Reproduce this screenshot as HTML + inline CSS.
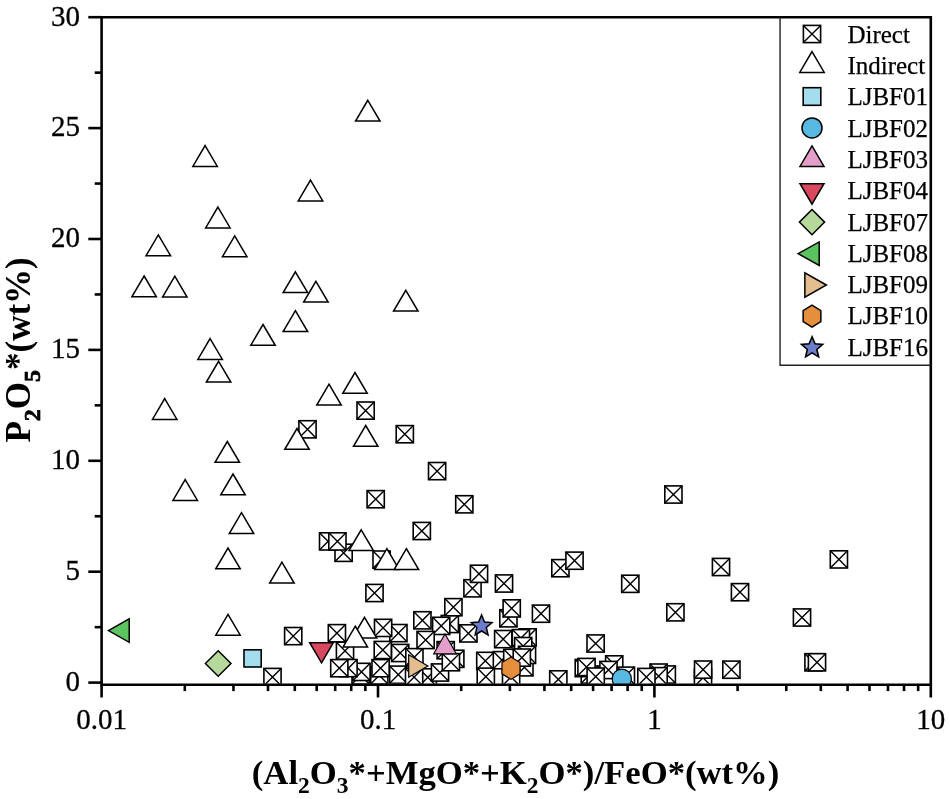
<!DOCTYPE html><html><head><meta charset="utf-8"><style>html,body{margin:0;padding:0;background:#fff;}svg{display:block;will-change:transform}</style></head><body>
<svg width="950" height="799" viewBox="0 0 950 799">
<rect width="950" height="799" fill="#fff"/>
<defs><clipPath id="pc"><rect x="101.6" y="17.2" width="829.1999999999999" height="666.5"/></clipPath></defs>
<g clip-path="url(#pc)">
<rect x="357.00" y="402.00" width="17.2" height="17.2" fill="#fff" stroke="#000" stroke-width="1.6"/><path d="M357.00 402.00L374.20 419.20M374.20 402.00L357.00 419.20" stroke="#000" stroke-width="1.4"/>
<rect x="298.90" y="420.70" width="17.2" height="17.2" fill="#fff" stroke="#000" stroke-width="1.6"/><path d="M298.90 420.70L316.10 437.90M316.10 420.70L298.90 437.90" stroke="#000" stroke-width="1.4"/>
<rect x="396.20" y="425.60" width="17.2" height="17.2" fill="#fff" stroke="#000" stroke-width="1.6"/><path d="M396.20 425.60L413.40 442.80M413.40 425.60L396.20 442.80" stroke="#000" stroke-width="1.4"/>
<rect x="367.10" y="490.60" width="17.2" height="17.2" fill="#fff" stroke="#000" stroke-width="1.6"/><path d="M367.10 490.60L384.30 507.80M384.30 490.60L367.10 507.80" stroke="#000" stroke-width="1.4"/>
<rect x="335.00" y="544.20" width="17.2" height="17.2" fill="#fff" stroke="#000" stroke-width="1.6"/><path d="M335.00 544.20L352.20 561.40M352.20 544.20L335.00 561.40" stroke="#000" stroke-width="1.4"/>
<rect x="319.50" y="532.80" width="17.2" height="17.2" fill="#fff" stroke="#000" stroke-width="1.6"/><path d="M319.50 532.80L336.70 550.00M336.70 532.80L319.50 550.00" stroke="#000" stroke-width="1.4"/>
<rect x="328.80" y="532.80" width="17.2" height="17.2" fill="#fff" stroke="#000" stroke-width="1.6"/><path d="M328.80 532.80L346.00 550.00M346.00 532.80L328.80 550.00" stroke="#000" stroke-width="1.4"/>
<rect x="413.20" y="522.40" width="17.2" height="17.2" fill="#fff" stroke="#000" stroke-width="1.6"/><path d="M413.20 522.40L430.40 539.60M430.40 522.40L413.20 539.60" stroke="#000" stroke-width="1.4"/>
<rect x="428.50" y="462.50" width="17.2" height="17.2" fill="#fff" stroke="#000" stroke-width="1.6"/><path d="M428.50 462.50L445.70 479.70M445.70 462.50L428.50 479.70" stroke="#000" stroke-width="1.4"/>
<rect x="455.70" y="495.70" width="17.2" height="17.2" fill="#fff" stroke="#000" stroke-width="1.6"/><path d="M455.70 495.70L472.90 512.90M472.90 495.70L455.70 512.90" stroke="#000" stroke-width="1.4"/>
<rect x="664.80" y="485.90" width="17.2" height="17.2" fill="#fff" stroke="#000" stroke-width="1.6"/><path d="M664.80 485.90L682.00 503.10M682.00 485.90L664.80 503.10" stroke="#000" stroke-width="1.4"/>
<rect x="373.00" y="551.00" width="17.2" height="17.2" fill="#fff" stroke="#000" stroke-width="1.6"/><path d="M373.00 551.00L390.20 568.20M390.20 551.00L373.00 568.20" stroke="#000" stroke-width="1.4"/>
<rect x="365.90" y="584.40" width="17.2" height="17.2" fill="#fff" stroke="#000" stroke-width="1.6"/><path d="M365.90 584.40L383.10 601.60M383.10 584.40L365.90 601.60" stroke="#000" stroke-width="1.4"/>
<rect x="284.60" y="627.50" width="17.2" height="17.2" fill="#fff" stroke="#000" stroke-width="1.6"/><path d="M284.60 627.50L301.80 644.70M301.80 627.50L284.60 644.70" stroke="#000" stroke-width="1.4"/>
<rect x="263.90" y="668.40" width="17.2" height="17.2" fill="#fff" stroke="#000" stroke-width="1.6"/><path d="M263.90 668.40L281.10 685.60M281.10 668.40L263.90 685.60" stroke="#000" stroke-width="1.4"/>
<rect x="328.30" y="624.60" width="17.2" height="17.2" fill="#fff" stroke="#000" stroke-width="1.6"/><path d="M328.30 624.60L345.50 641.80M345.50 624.60L328.30 641.80" stroke="#000" stroke-width="1.4"/>
<rect x="336.40" y="642.20" width="17.2" height="17.2" fill="#fff" stroke="#000" stroke-width="1.6"/><path d="M336.40 642.20L353.60 659.40M353.60 642.20L336.40 659.40" stroke="#000" stroke-width="1.4"/>
<rect x="352.00" y="666.80" width="17.2" height="17.2" fill="#fff" stroke="#000" stroke-width="1.6"/><path d="M352.00 666.80L369.20 684.00M369.20 666.80L352.00 684.00" stroke="#000" stroke-width="1.4"/>
<rect x="352.90" y="663.30" width="17.2" height="17.2" fill="#fff" stroke="#000" stroke-width="1.6"/><path d="M352.90 663.30L370.10 680.50M370.10 663.30L352.90 680.50" stroke="#000" stroke-width="1.4"/>
<rect x="339.90" y="659.50" width="17.2" height="17.2" fill="#fff" stroke="#000" stroke-width="1.6"/><path d="M339.90 659.50L357.10 676.70M357.10 659.50L339.90 676.70" stroke="#000" stroke-width="1.4"/>
<rect x="330.70" y="659.60" width="17.2" height="17.2" fill="#fff" stroke="#000" stroke-width="1.6"/><path d="M330.70 659.60L347.90 676.80M347.90 659.60L330.70 676.80" stroke="#000" stroke-width="1.4"/>
<rect x="370.70" y="666.80" width="17.2" height="17.2" fill="#fff" stroke="#000" stroke-width="1.6"/><path d="M370.70 666.80L387.90 684.00M387.90 666.80L370.70 684.00" stroke="#000" stroke-width="1.4"/>
<rect x="389.80" y="624.50" width="17.2" height="17.2" fill="#fff" stroke="#000" stroke-width="1.6"/><path d="M389.80 624.50L407.00 641.70M407.00 624.50L389.80 641.70" stroke="#000" stroke-width="1.4"/>
<rect x="374.50" y="619.30" width="17.2" height="17.2" fill="#fff" stroke="#000" stroke-width="1.6"/><path d="M374.50 619.30L391.70 636.50M391.70 619.30L374.50 636.50" stroke="#000" stroke-width="1.4"/>
<rect x="374.20" y="641.40" width="17.2" height="17.2" fill="#fff" stroke="#000" stroke-width="1.6"/><path d="M374.20 641.40L391.40 658.60M391.40 641.40L374.20 658.60" stroke="#000" stroke-width="1.4"/>
<rect x="372.00" y="659.60" width="17.2" height="17.2" fill="#fff" stroke="#000" stroke-width="1.6"/><path d="M372.00 659.60L389.20 676.80M389.20 659.60L372.00 676.80" stroke="#000" stroke-width="1.4"/>
<rect x="441.20" y="615.40" width="17.2" height="17.2" fill="#fff" stroke="#000" stroke-width="1.6"/><path d="M441.20 615.40L458.40 632.60M458.40 615.40L441.20 632.60" stroke="#000" stroke-width="1.4"/>
<rect x="391.60" y="644.40" width="17.2" height="17.2" fill="#fff" stroke="#000" stroke-width="1.6"/><path d="M391.60 644.40L408.80 661.60M408.80 644.40L391.60 661.60" stroke="#000" stroke-width="1.4"/>
<rect x="419.20" y="668.80" width="17.2" height="17.2" fill="#fff" stroke="#000" stroke-width="1.6"/><path d="M419.20 668.80L436.40 686.00M436.40 668.80L419.20 686.00" stroke="#000" stroke-width="1.4"/>
<rect x="389.70" y="666.10" width="17.2" height="17.2" fill="#fff" stroke="#000" stroke-width="1.6"/><path d="M389.70 666.10L406.90 683.30M406.90 666.10L389.70 683.30" stroke="#000" stroke-width="1.4"/>
<rect x="405.50" y="668.50" width="17.2" height="17.2" fill="#fff" stroke="#000" stroke-width="1.6"/><path d="M405.50 668.50L422.70 685.70M422.70 668.50L405.50 685.70" stroke="#000" stroke-width="1.4"/>
<rect x="405.80" y="648.60" width="17.2" height="17.2" fill="#fff" stroke="#000" stroke-width="1.6"/><path d="M405.80 648.60L423.00 665.80M423.00 648.60L405.80 665.80" stroke="#000" stroke-width="1.4"/>
<rect x="413.80" y="611.70" width="17.2" height="17.2" fill="#fff" stroke="#000" stroke-width="1.6"/><path d="M413.80 611.70L431.00 628.90M431.00 611.70L413.80 628.90" stroke="#000" stroke-width="1.4"/>
<rect x="432.60" y="617.30" width="17.2" height="17.2" fill="#fff" stroke="#000" stroke-width="1.6"/><path d="M432.60 617.30L449.80 634.50M449.80 617.30L432.60 634.50" stroke="#000" stroke-width="1.4"/>
<rect x="444.80" y="598.60" width="17.2" height="17.2" fill="#fff" stroke="#000" stroke-width="1.6"/><path d="M444.80 598.60L462.00 615.80M462.00 598.60L444.80 615.80" stroke="#000" stroke-width="1.4"/>
<rect x="463.90" y="579.70" width="17.2" height="17.2" fill="#fff" stroke="#000" stroke-width="1.6"/><path d="M463.90 579.70L481.10 596.90M481.10 579.70L463.90 596.90" stroke="#000" stroke-width="1.4"/>
<rect x="470.40" y="565.20" width="17.2" height="17.2" fill="#fff" stroke="#000" stroke-width="1.6"/><path d="M470.40 565.20L487.60 582.40M487.60 565.20L470.40 582.40" stroke="#000" stroke-width="1.4"/>
<rect x="417.00" y="631.40" width="17.2" height="17.2" fill="#fff" stroke="#000" stroke-width="1.6"/><path d="M417.00 631.40L434.20 648.60M434.20 631.40L417.00 648.60" stroke="#000" stroke-width="1.4"/>
<rect x="446.70" y="650.20" width="17.2" height="17.2" fill="#fff" stroke="#000" stroke-width="1.6"/><path d="M446.70 650.20L463.90 667.40M463.90 650.20L446.70 667.40" stroke="#000" stroke-width="1.4"/>
<rect x="437.10" y="641.60" width="17.2" height="17.2" fill="#fff" stroke="#000" stroke-width="1.6"/><path d="M437.10 641.60L454.30 658.80M454.30 641.60L437.10 658.80" stroke="#000" stroke-width="1.4"/>
<rect x="431.40" y="663.90" width="17.2" height="17.2" fill="#fff" stroke="#000" stroke-width="1.6"/><path d="M431.40 663.90L448.60 681.10M448.60 663.90L431.40 681.10" stroke="#000" stroke-width="1.4"/>
<rect x="442.30" y="653.60" width="17.2" height="17.2" fill="#fff" stroke="#000" stroke-width="1.6"/><path d="M442.30 653.60L459.50 670.80M459.50 653.60L442.30 670.80" stroke="#000" stroke-width="1.4"/>
<rect x="459.80" y="624.80" width="17.2" height="17.2" fill="#fff" stroke="#000" stroke-width="1.6"/><path d="M459.80 624.80L477.00 642.00M477.00 624.80L459.80 642.00" stroke="#000" stroke-width="1.4"/>
<rect x="476.70" y="652.30" width="17.2" height="17.2" fill="#fff" stroke="#000" stroke-width="1.6"/><path d="M476.70 652.30L493.90 669.50M493.90 652.30L476.70 669.50" stroke="#000" stroke-width="1.4"/>
<rect x="495.40" y="574.90" width="17.2" height="17.2" fill="#fff" stroke="#000" stroke-width="1.6"/><path d="M495.40 574.90L512.60 592.10M512.60 574.90L495.40 592.10" stroke="#000" stroke-width="1.4"/>
<rect x="499.80" y="609.70" width="17.2" height="17.2" fill="#fff" stroke="#000" stroke-width="1.6"/><path d="M499.80 609.70L517.00 626.90M517.00 609.70L499.80 626.90" stroke="#000" stroke-width="1.4"/>
<rect x="503.10" y="599.80" width="17.2" height="17.2" fill="#fff" stroke="#000" stroke-width="1.6"/><path d="M503.10 599.80L520.30 617.00M520.30 599.80L503.10 617.00" stroke="#000" stroke-width="1.4"/>
<rect x="532.40" y="605.10" width="17.2" height="17.2" fill="#fff" stroke="#000" stroke-width="1.6"/><path d="M532.40 605.10L549.60 622.30M549.60 605.10L532.40 622.30" stroke="#000" stroke-width="1.4"/>
<rect x="494.60" y="630.50" width="17.2" height="17.2" fill="#fff" stroke="#000" stroke-width="1.6"/><path d="M494.60 630.50L511.80 647.70M511.80 630.50L494.60 647.70" stroke="#000" stroke-width="1.4"/>
<rect x="519.00" y="628.80" width="17.2" height="17.2" fill="#fff" stroke="#000" stroke-width="1.6"/><path d="M519.00 628.80L536.20 646.00M536.20 628.80L519.00 646.00" stroke="#000" stroke-width="1.4"/>
<rect x="512.30" y="629.60" width="17.2" height="17.2" fill="#fff" stroke="#000" stroke-width="1.6"/><path d="M512.30 629.60L529.50 646.80M529.50 629.60L512.30 646.80" stroke="#000" stroke-width="1.4"/>
<rect x="514.60" y="637.50" width="17.2" height="17.2" fill="#fff" stroke="#000" stroke-width="1.6"/><path d="M514.60 637.50L531.80 654.70M531.80 637.50L514.60 654.70" stroke="#000" stroke-width="1.4"/>
<rect x="493.30" y="651.60" width="17.2" height="17.2" fill="#fff" stroke="#000" stroke-width="1.6"/><path d="M493.30 651.60L510.50 668.80M510.50 651.60L493.30 668.80" stroke="#000" stroke-width="1.4"/>
<rect x="503.70" y="649.30" width="17.2" height="17.2" fill="#fff" stroke="#000" stroke-width="1.6"/><path d="M503.70 649.30L520.90 666.50M520.90 649.30L503.70 666.50" stroke="#000" stroke-width="1.4"/>
<rect x="515.80" y="658.70" width="17.2" height="17.2" fill="#fff" stroke="#000" stroke-width="1.6"/><path d="M515.80 658.70L533.00 675.90M533.00 658.70L515.80 675.90" stroke="#000" stroke-width="1.4"/>
<rect x="518.40" y="646.30" width="17.2" height="17.2" fill="#fff" stroke="#000" stroke-width="1.6"/><path d="M518.40 646.30L535.60 663.50M535.60 646.30L518.40 663.50" stroke="#000" stroke-width="1.4"/>
<rect x="513.20" y="649.00" width="17.2" height="17.2" fill="#fff" stroke="#000" stroke-width="1.6"/><path d="M513.20 649.00L530.40 666.20M530.40 649.00L513.20 666.20" stroke="#000" stroke-width="1.4"/>
<rect x="477.20" y="668.10" width="17.2" height="17.2" fill="#fff" stroke="#000" stroke-width="1.6"/><path d="M477.20 668.10L494.40 685.30M494.40 668.10L477.20 685.30" stroke="#000" stroke-width="1.4"/>
<rect x="502.50" y="668.40" width="17.2" height="17.2" fill="#fff" stroke="#000" stroke-width="1.6"/><path d="M502.50 668.40L519.70 685.60M519.70 668.40L502.50 685.60" stroke="#000" stroke-width="1.4"/>
<rect x="549.70" y="670.80" width="17.2" height="17.2" fill="#fff" stroke="#000" stroke-width="1.6"/><path d="M549.70 670.80L566.90 688.00M566.90 670.80L549.70 688.00" stroke="#000" stroke-width="1.4"/>
<rect x="551.80" y="559.60" width="17.2" height="17.2" fill="#fff" stroke="#000" stroke-width="1.6"/><path d="M551.80 559.60L569.00 576.80M569.00 559.60L551.80 576.80" stroke="#000" stroke-width="1.4"/>
<rect x="565.90" y="552.10" width="17.2" height="17.2" fill="#fff" stroke="#000" stroke-width="1.6"/><path d="M565.90 552.10L583.10 569.30M583.10 552.10L565.90 569.30" stroke="#000" stroke-width="1.4"/>
<rect x="621.70" y="575.20" width="17.2" height="17.2" fill="#fff" stroke="#000" stroke-width="1.6"/><path d="M621.70 575.20L638.90 592.40M638.90 575.20L621.70 592.40" stroke="#000" stroke-width="1.4"/>
<rect x="666.80" y="603.70" width="17.2" height="17.2" fill="#fff" stroke="#000" stroke-width="1.6"/><path d="M666.80 603.70L684.00 620.90M684.00 603.70L666.80 620.90" stroke="#000" stroke-width="1.4"/>
<rect x="587.00" y="634.90" width="17.2" height="17.2" fill="#fff" stroke="#000" stroke-width="1.6"/><path d="M587.00 634.90L604.20 652.10M604.20 634.90L587.00 652.10" stroke="#000" stroke-width="1.4"/>
<rect x="581.20" y="666.00" width="17.2" height="17.2" fill="#fff" stroke="#000" stroke-width="1.6"/><path d="M581.20 666.00L598.40 683.20M598.40 666.00L581.20 683.20" stroke="#000" stroke-width="1.4"/>
<rect x="575.20" y="659.50" width="17.2" height="17.2" fill="#fff" stroke="#000" stroke-width="1.6"/><path d="M575.20 659.50L592.40 676.70M592.40 659.50L575.20 676.70" stroke="#000" stroke-width="1.4"/>
<rect x="577.90" y="658.40" width="17.2" height="17.2" fill="#fff" stroke="#000" stroke-width="1.6"/><path d="M577.90 658.40L595.10 675.60M595.10 658.40L577.90 675.60" stroke="#000" stroke-width="1.4"/>
<rect x="605.60" y="655.80" width="17.2" height="17.2" fill="#fff" stroke="#000" stroke-width="1.6"/><path d="M605.60 655.80L622.80 673.00M622.80 655.80L605.60 673.00" stroke="#000" stroke-width="1.4"/>
<rect x="599.90" y="661.40" width="17.2" height="17.2" fill="#fff" stroke="#000" stroke-width="1.6"/><path d="M599.90 661.40L617.10 678.60M617.10 661.40L599.90 678.60" stroke="#000" stroke-width="1.4"/>
<rect x="587.10" y="668.00" width="17.2" height="17.2" fill="#fff" stroke="#000" stroke-width="1.6"/><path d="M587.10 668.00L604.30 685.20M604.30 668.00L587.10 685.20" stroke="#000" stroke-width="1.4"/>
<rect x="617.30" y="667.10" width="17.2" height="17.2" fill="#fff" stroke="#000" stroke-width="1.6"/><path d="M617.30 667.10L634.50 684.30M634.50 667.10L617.30 684.30" stroke="#000" stroke-width="1.4"/>
<rect x="658.20" y="665.90" width="17.2" height="17.2" fill="#fff" stroke="#000" stroke-width="1.6"/><path d="M658.20 665.90L675.40 683.10M675.40 665.90L658.20 683.10" stroke="#000" stroke-width="1.4"/>
<rect x="650.00" y="664.00" width="17.2" height="17.2" fill="#fff" stroke="#000" stroke-width="1.6"/><path d="M650.00 664.00L667.20 681.20M667.20 664.00L650.00 681.20" stroke="#000" stroke-width="1.4"/>
<rect x="650.00" y="667.60" width="17.2" height="17.2" fill="#fff" stroke="#000" stroke-width="1.6"/><path d="M650.00 667.60L667.20 684.80M667.20 667.60L650.00 684.80" stroke="#000" stroke-width="1.4"/>
<rect x="637.80" y="668.40" width="17.2" height="17.2" fill="#fff" stroke="#000" stroke-width="1.6"/><path d="M637.80 668.40L655.00 685.60M655.00 668.40L637.80 685.60" stroke="#000" stroke-width="1.4"/>
<rect x="694.40" y="669.20" width="17.2" height="17.2" fill="#fff" stroke="#000" stroke-width="1.6"/><path d="M694.40 669.20L711.60 686.40M711.60 669.20L694.40 686.40" stroke="#000" stroke-width="1.4"/>
<rect x="694.50" y="661.00" width="17.2" height="17.2" fill="#fff" stroke="#000" stroke-width="1.6"/><path d="M694.50 661.00L711.70 678.20M711.70 661.00L694.50 678.20" stroke="#000" stroke-width="1.4"/>
<rect x="722.80" y="661.10" width="17.2" height="17.2" fill="#fff" stroke="#000" stroke-width="1.6"/><path d="M722.80 661.10L740.00 678.30M740.00 661.10L722.80 678.30" stroke="#000" stroke-width="1.4"/>
<rect x="712.40" y="558.40" width="17.2" height="17.2" fill="#fff" stroke="#000" stroke-width="1.6"/><path d="M712.40 558.40L729.60 575.60M729.60 558.40L712.40 575.60" stroke="#000" stroke-width="1.4"/>
<rect x="731.40" y="583.60" width="17.2" height="17.2" fill="#fff" stroke="#000" stroke-width="1.6"/><path d="M731.40 583.60L748.60 600.80M748.60 583.60L731.40 600.80" stroke="#000" stroke-width="1.4"/>
<rect x="830.30" y="550.80" width="17.2" height="17.2" fill="#fff" stroke="#000" stroke-width="1.6"/><path d="M830.30 550.80L847.50 568.00M847.50 550.80L830.30 568.00" stroke="#000" stroke-width="1.4"/>
<rect x="793.40" y="608.90" width="17.2" height="17.2" fill="#fff" stroke="#000" stroke-width="1.6"/><path d="M793.40 608.90L810.60 626.10M810.60 608.90L793.40 626.10" stroke="#000" stroke-width="1.4"/>
<rect x="804.90" y="653.70" width="17.2" height="17.2" fill="#fff" stroke="#000" stroke-width="1.6"/><path d="M804.90 653.70L822.10 670.90M822.10 653.70L804.90 670.90" stroke="#000" stroke-width="1.4"/>
<rect x="808.40" y="653.70" width="17.2" height="17.2" fill="#fff" stroke="#000" stroke-width="1.6"/><path d="M808.40 653.70L825.60 670.90M825.60 653.70L808.40 670.90" stroke="#000" stroke-width="1.4"/>
<path d="M367.80 100.30L380.05 121.10L355.55 121.10Z" fill="#fff" stroke="#000" stroke-width="1.5" stroke-linejoin="miter"/>
<path d="M205.10 145.60L217.35 166.40L192.85 166.40Z" fill="#fff" stroke="#000" stroke-width="1.5" stroke-linejoin="miter"/>
<path d="M310.50 180.10L322.75 200.90L298.25 200.90Z" fill="#fff" stroke="#000" stroke-width="1.5" stroke-linejoin="miter"/>
<path d="M217.90 207.10L230.15 227.90L205.65 227.90Z" fill="#fff" stroke="#000" stroke-width="1.5" stroke-linejoin="miter"/>
<path d="M158.30 234.90L170.55 255.70L146.05 255.70Z" fill="#fff" stroke="#000" stroke-width="1.5" stroke-linejoin="miter"/>
<path d="M234.70 235.90L246.95 256.70L222.45 256.70Z" fill="#fff" stroke="#000" stroke-width="1.5" stroke-linejoin="miter"/>
<path d="M144.10 276.00L156.35 296.80L131.85 296.80Z" fill="#fff" stroke="#000" stroke-width="1.5" stroke-linejoin="miter"/>
<path d="M174.80 276.20L187.05 297.00L162.55 297.00Z" fill="#fff" stroke="#000" stroke-width="1.5" stroke-linejoin="miter"/>
<path d="M295.40 271.80L307.65 292.60L283.15 292.60Z" fill="#fff" stroke="#000" stroke-width="1.5" stroke-linejoin="miter"/>
<path d="M315.90 281.30L328.15 302.10L303.65 302.10Z" fill="#fff" stroke="#000" stroke-width="1.5" stroke-linejoin="miter"/>
<path d="M405.80 290.30L418.05 311.10L393.55 311.10Z" fill="#fff" stroke="#000" stroke-width="1.5" stroke-linejoin="miter"/>
<path d="M295.40 310.70L307.65 331.50L283.15 331.50Z" fill="#fff" stroke="#000" stroke-width="1.5" stroke-linejoin="miter"/>
<path d="M263.00 324.50L275.25 345.30L250.75 345.30Z" fill="#fff" stroke="#000" stroke-width="1.5" stroke-linejoin="miter"/>
<path d="M210.10 338.60L222.35 359.40L197.85 359.40Z" fill="#fff" stroke="#000" stroke-width="1.5" stroke-linejoin="miter"/>
<path d="M218.60 361.30L230.85 382.10L206.35 382.10Z" fill="#fff" stroke="#000" stroke-width="1.5" stroke-linejoin="miter"/>
<path d="M164.70 398.60L176.95 419.40L152.45 419.40Z" fill="#fff" stroke="#000" stroke-width="1.5" stroke-linejoin="miter"/>
<path d="M355.00 372.50L367.25 393.30L342.75 393.30Z" fill="#fff" stroke="#000" stroke-width="1.5" stroke-linejoin="miter"/>
<path d="M329.00 384.20L341.25 405.00L316.75 405.00Z" fill="#fff" stroke="#000" stroke-width="1.5" stroke-linejoin="miter"/>
<path d="M365.70 425.50L377.95 446.30L353.45 446.30Z" fill="#fff" stroke="#000" stroke-width="1.5" stroke-linejoin="miter"/>
<path d="M297.00 428.50L309.25 449.30L284.75 449.30Z" fill="#fff" stroke="#000" stroke-width="1.5" stroke-linejoin="miter"/>
<path d="M227.30 441.50L239.55 462.30L215.05 462.30Z" fill="#fff" stroke="#000" stroke-width="1.5" stroke-linejoin="miter"/>
<path d="M185.20 479.60L197.45 500.40L172.95 500.40Z" fill="#fff" stroke="#000" stroke-width="1.5" stroke-linejoin="miter"/>
<path d="M233.00 474.00L245.25 494.80L220.75 494.80Z" fill="#fff" stroke="#000" stroke-width="1.5" stroke-linejoin="miter"/>
<path d="M241.50 512.70L253.75 533.50L229.25 533.50Z" fill="#fff" stroke="#000" stroke-width="1.5" stroke-linejoin="miter"/>
<path d="M361.20 529.80L373.45 550.60L348.95 550.60Z" fill="#fff" stroke="#000" stroke-width="1.5" stroke-linejoin="miter"/>
<path d="M228.00 548.00L240.25 568.80L215.75 568.80Z" fill="#fff" stroke="#000" stroke-width="1.5" stroke-linejoin="miter"/>
<path d="M281.90 562.20L294.15 583.00L269.65 583.00Z" fill="#fff" stroke="#000" stroke-width="1.5" stroke-linejoin="miter"/>
<path d="M228.00 614.40L240.25 635.20L215.75 635.20Z" fill="#fff" stroke="#000" stroke-width="1.5" stroke-linejoin="miter"/>
<path d="M386.90 548.70L399.15 569.50L374.65 569.50Z" fill="#fff" stroke="#000" stroke-width="1.5" stroke-linejoin="miter"/>
<path d="M406.40 548.70L418.65 569.50L394.15 569.50Z" fill="#fff" stroke="#000" stroke-width="1.5" stroke-linejoin="miter"/>
<path d="M364.50 617.30L376.75 638.10L352.25 638.10Z" fill="#fff" stroke="#000" stroke-width="1.5" stroke-linejoin="miter"/>
<path d="M355.30 626.20L367.55 647.00L343.05 647.00Z" fill="#fff" stroke="#000" stroke-width="1.5" stroke-linejoin="miter"/>
<path d="M108.40 630.60L129.20 618.90L129.20 642.30Z" fill="#5CC45E" stroke="#000" stroke-width="1.5"/>
<path d="M218.20 650.70L231.00 663.50L218.20 676.30L205.40 663.50Z" fill="#B5D99B" stroke="#000" stroke-width="1.5"/>
<rect x="244.00" y="649.80" width="17.2" height="17.2" fill="#A4DEEE" stroke="#000" stroke-width="1.6"/>
<path d="M321.50 662.85L333.30 642.75L309.70 642.75Z" fill="#D8485F" stroke="#000" stroke-width="1.5"/>
<path d="M445.00 633.90L456.40 653.90L433.60 653.90Z" fill="#E39FC9" stroke="#000" stroke-width="1.1" stroke-linejoin="miter"/>
<path d="M427.90 666.00L408.70 654.85L408.70 677.15Z" fill="#E3BD8F" stroke="#000" stroke-width="1.2"/>
<path d="M511.00 657.00L520.02 662.60L520.02 673.80L511.00 679.40L501.98 673.80L501.98 662.60Z" fill="#E58F3C" stroke="#000" stroke-width="1.2"/>
<path d="M481.60 615.00L484.54 621.95L492.06 622.60L486.36 627.55L488.07 634.90L481.60 631.00L475.13 634.90L476.84 627.55L471.14 622.60L478.66 621.95Z" fill="#6B7CC8" stroke="#000" stroke-width="1.5" stroke-linejoin="miter"/>
<circle cx="621.80" cy="678.70" r="9.6" fill="#57B9E2" stroke="#000" stroke-width="1.2"/>
</g>
<g stroke="#000" stroke-width="2.6" fill="none" stroke-linecap="butt">
<path d="M101.6 17.2H930.8V684.7H101.6Z" stroke-linejoin="miter"/>
<path d="M88.30 682.60H101.6"/>
<path d="M94.70 627.15H101.6"/>
<path d="M88.30 571.70H101.6"/>
<path d="M94.70 516.25H101.6"/>
<path d="M88.30 460.80H101.6"/>
<path d="M94.70 405.35H101.6"/>
<path d="M88.30 349.90H101.6"/>
<path d="M94.70 294.45H101.6"/>
<path d="M88.30 239.00H101.6"/>
<path d="M94.70 183.55H101.6"/>
<path d="M88.30 128.10H101.6"/>
<path d="M94.70 72.65H101.6"/>
<path d="M88.30 17.20H101.6"/>
<path d="M101.60 684.7V697.50"/>
<path d="M184.80 684.7V691.10"/>
<path d="M233.48 684.7V691.10"/>
<path d="M268.01 684.7V691.10"/>
<path d="M294.80 684.7V691.10"/>
<path d="M316.68 684.7V691.10"/>
<path d="M335.19 684.7V691.10"/>
<path d="M351.21 684.7V691.10"/>
<path d="M365.35 684.7V691.10"/>
<path d="M378.00 684.7V697.50"/>
<path d="M461.20 684.7V691.10"/>
<path d="M509.88 684.7V691.10"/>
<path d="M544.41 684.7V691.10"/>
<path d="M571.20 684.7V691.10"/>
<path d="M593.08 684.7V691.10"/>
<path d="M611.59 684.7V691.10"/>
<path d="M627.61 684.7V691.10"/>
<path d="M641.75 684.7V691.10"/>
<path d="M654.40 684.7V697.50"/>
<path d="M737.60 684.7V691.10"/>
<path d="M786.28 684.7V691.10"/>
<path d="M820.81 684.7V691.10"/>
<path d="M847.60 684.7V691.10"/>
<path d="M869.48 684.7V691.10"/>
<path d="M887.99 684.7V691.10"/>
<path d="M904.01 684.7V691.10"/>
<path d="M918.15 684.7V691.10"/>
<path d="M930.8 684.7V697.50"/>
</g>
<g font-family="Liberation Serif" font-size="29" fill="#000" stroke="#000" stroke-width="0.3">
<text x="80" y="690.90" text-anchor="end">0</text>
<text x="80" y="580.00" text-anchor="end">5</text>
<text x="80" y="469.10" text-anchor="end">10</text>
<text x="80" y="358.20" text-anchor="end">15</text>
<text x="80" y="247.30" text-anchor="end">20</text>
<text x="80" y="136.40" text-anchor="end">25</text>
<text x="80" y="25.50" text-anchor="end">30</text>
<text x="101.60" y="728.9" text-anchor="middle">0.01</text>
<text x="378.00" y="728.9" text-anchor="middle">0.1</text>
<text x="654.40" y="728.9" text-anchor="middle">1</text>
<text x="930.80" y="728.9" text-anchor="middle">10</text>
</g>
<text x="515.6" y="783.6" text-anchor="middle" font-family="Liberation Serif" font-weight="bold" font-size="34.7" fill="#000">(Al<tspan font-size="23.5" dy="9.7">2</tspan><tspan dy="-9.7">O</tspan><tspan font-size="23.5" dy="9.7">3</tspan><tspan dy="-9.7">*+MgO*+K</tspan><tspan font-size="23.5" dy="9.7">2</tspan><tspan dy="-9.7">O*)/FeO*(wt%)</tspan></text>
<text transform="translate(30,349.9) rotate(-90)" x="0" y="0" text-anchor="middle" font-family="Liberation Serif" font-weight="bold" font-size="35" fill="#000">P<tspan font-size="24" dy="9.7" stroke="#000" stroke-width="0.7">2</tspan><tspan dy="-9.7">O</tspan><tspan font-size="24" dy="9.7" stroke="#000" stroke-width="0.7">5</tspan><tspan dy="-9.7">*(wt%)</tspan></text>
<path d="M780.05 17.2V365.3H930.8" stroke="#222" stroke-width="1.4" fill="none"/>
<rect x="803.40" y="25.40" width="17.2" height="17.2" fill="#fff" stroke="#000" stroke-width="1.6"/><path d="M803.40 25.40L820.60 42.60M820.60 25.40L803.40 42.60" stroke="#000" stroke-width="1.4"/>
<path d="M812.00 51.60L824.25 72.40L799.75 72.40Z" fill="#fff" stroke="#000" stroke-width="1.5" stroke-linejoin="miter"/>
<rect x="803.2" y="87.7" width="17.6" height="17.6" fill="#A4DEEE" stroke="#000" stroke-width="1.6"/>
<circle cx="812.00" cy="127.90" r="10.0" fill="#57B9E2" stroke="#000" stroke-width="1.5"/>
<path d="M812.00 145.95L824.00 166.45L800.00 166.45Z" fill="#E39FC9" stroke="#000" stroke-width="1.5" stroke-linejoin="miter"/>
<path d="M812.00 204.15L824.00 183.65L800.00 183.65Z" fill="#D8485F" stroke="#000" stroke-width="1.5"/>
<path d="M812.00 209.50L824.60 222.10L812.00 234.70L799.40 222.10Z" fill="#B5D99B" stroke="#000" stroke-width="1.5"/>
<path d="M798.20 253.70L819.20 241.95L819.20 265.45Z" fill="#5CC45E" stroke="#000" stroke-width="1.5"/>
<path d="M826.35 285.00L804.85 272.75L804.85 297.25Z" fill="#E3BD8F" stroke="#000" stroke-width="1.5"/>
<path d="M812.00 305.20L820.86 310.70L820.86 321.70L812.00 327.20L803.14 321.70L803.14 310.70Z" fill="#E58F3C" stroke="#000" stroke-width="1.5"/>
<path d="M812.10 336.80L815.04 343.85L822.66 344.47L816.86 349.45L818.62 356.88L812.10 352.90L805.58 356.88L807.34 349.45L801.54 344.47L809.16 343.85Z" fill="#6B7CC8" stroke="#000" stroke-width="1.6" stroke-linejoin="miter"/>
<g font-family="Liberation Serif" font-size="25" fill="#000" stroke="#000" stroke-width="0.25">
<text x="847.4" y="42.7">Direct</text>
<text x="847.4" y="74.0">Indirect</text>
<text x="847.4" y="105.30000000000001">LJBF01</text>
<text x="847.4" y="136.60000000000002">LJBF02</text>
<text x="847.4" y="167.9">LJBF03</text>
<text x="847.4" y="199.2">LJBF04</text>
<text x="847.4" y="230.5">LJBF07</text>
<text x="847.4" y="261.8">LJBF08</text>
<text x="847.4" y="293.1">LJBF09</text>
<text x="847.4" y="324.4">LJBF10</text>
<text x="847.4" y="355.7">LJBF16</text>
</g>
</svg></body></html>
